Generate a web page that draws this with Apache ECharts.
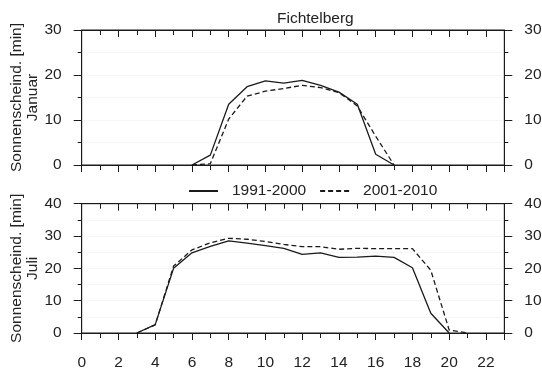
<!DOCTYPE html>
<html>
<head>
<meta charset="utf-8">
<script src="https://cdn.jsdelivr.net/npm/echarts@6/dist/echarts.min.js"></script>
<style>
  html, body { margin: 0; padding: 0; background: #fff; }
  #chart { width: 542px; height: 372px; }
</style>
</head>
<body>
<div id="chart"></div>
<script>
// Stunden (x)
var janHours = [6, 7, 8, 9, 10, 11, 12, 13, 14, 15, 16, 17];
var jan1991 = [0, 2.2, 13.5, 17.4, 18.7, 18.2, 18.8, 17.7, 16.2, 13.5, 2.4, 0];
var jan2001 = [0, 0.3, 10.2, 15.3, 16.4, 17.0, 17.7, 17.2, 16.1, 13.1, 6.4, 0];

var julHours1991 = [3, 4, 5, 6, 7, 8, 9, 10, 11, 12, 13, 14, 15, 16, 17, 18, 19, 20];
var jul1991 = [0, 2.6, 20.0, 24.8, 26.8, 28.5, 27.8, 27.0, 26.2, 24.3, 24.8, 23.4, 23.5, 23.8, 23.4, 20.2, 6.1, 0];
var julHours2001 = [3, 4, 5, 6, 7, 8, 9, 10, 11, 12, 13, 14, 15, 16, 17, 18, 19, 20, 21];
var jul2001 = [0, 2.5, 20.7, 25.7, 27.9, 29.3, 29.0, 28.3, 27.4, 26.7, 26.7, 25.9, 26.2, 26.1, 26.1, 26.1, 19.4, 0.9, 0];

var xTicks = [0, 2, 4, 6, 8, 10, 12, 14, 16, 18, 20, 22];
var seriesNames = ['1991-2000', '2001-2010'];

function pairs(xs, ys) {
  var out = [];
  for (var i = 0; i < xs.length; i++) out.push([xs[i], ys[i]]);
  return out;
}

var font = 'Liberation Sans, Arial, sans-serif';
var black = '#1a1a1a';
var fs = 15.5;

function xAxisDef(grid, pos, labels) {
  var inside = pos === 'top';
  return {
    type: 'value',
    gridIndex: grid,
    position: pos,
    min: 0,
    max: 23,
    interval: 2,
    axisLine: { show: true, onZero: false, lineStyle: { color: black, width: 1 } },
    axisTick: { show: true, inside: inside, length: 7, lineStyle: { color: black } },
    minorTick: { show: true, splitNumber: 2, length: 5, lineStyle: { color: black } },
    axisLabel: {
      show: labels,
      margin: 22,
      color: '#222',
      fontFamily: font,
      fontSize: fs,
      showMaxLabel: false,
      formatter: function (v) { return xTicks.indexOf(v) >= 0 ? String(v) : ''; }
    },
    splitLine: { show: false }
  };
}

function yAxisDef(grid, pos, max, name) {
  var ax = {
    type: 'value',
    gridIndex: grid,
    position: pos,
    min: 0,
    max: max,
    interval: 10,
    axisLine: { show: true, onZero: false, lineStyle: { color: black, width: 1 } },
    axisTick: { show: true, length: 8, lineStyle: { color: black } },
    minorTick: { show: true, splitNumber: 2, length: 4, lineStyle: { color: black } },
    axisLabel: {
      margin: 20,
      color: '#222',
      fontFamily: font,
      fontSize: fs
    },
    splitLine: {
      show: pos === 'left',
      lineStyle: { color: '#ececec', type: 'dotted', width: 1 }
    },
    minorSplitLine: {
      show: pos === 'left',
      lineStyle: { color: '#ececec', type: 'dotted', width: 1 }
    }
  };
  if (name) {
    ax.name = name;
    ax.nameLocation = 'middle';
    ax.nameRotate = 90;
    ax.nameGap = 41;
    ax.nameMoveOverlap = false;
    ax.nameTextStyle = { color: '#222', fontFamily: font, fontSize: fs, lineHeight: 16 };
  }
  return ax;
}

function lineSeries(name, x, y, data, dashed) {
  return {
    name: name,
    type: 'line',
    xAxisIndex: x,
    yAxisIndex: y,
    data: data,
    symbol: 'none',
    silent: true,
    animation: false,
    lineStyle: { color: black, width: 1.3, type: dashed ? [5, 3] : 'solid' },
    itemStyle: { color: black }
  };
}

var chart = echarts.init(document.getElementById('chart'));
chart.setOption({
  animation: false,
  title: {
    text: 'Fichtelberg',
    left: 272,
    top: 6,
    textStyle: { color: '#222', fontFamily: font, fontSize: fs, fontWeight: 'normal' }
  },
  legend: {
    data: seriesNames,
    left: 188,
    top: 183,
    padding: 0,
    itemWidth: 29,
    itemHeight: 14,
    itemGap: 13,
    itemStyle: { opacity: 0 },
    textStyle: { color: '#222', fontFamily: font, fontSize: fs, padding: [0, 0, 0, 9] }
  },
  grid: [
    { left: 81.7, right: 37.7, top: 30, height: 135, outerBoundsMode: 'none',
      show: true, borderColor: black, borderWidth: 1, backgroundColor: 'transparent' },
    { left: 81.7, right: 37.7, top: 203.7, height: 129.3, outerBoundsMode: 'none',
      show: true, borderColor: black, borderWidth: 1, backgroundColor: 'transparent' }
  ],
  xAxis: [
    xAxisDef(0, 'bottom', false),
    xAxisDef(0, 'top', false),
    xAxisDef(1, 'bottom', true),
    xAxisDef(1, 'top', false)
  ],
  yAxis: [
    yAxisDef(0, 'left', 30, 'Sonnenscheind. [min]\nJanuar'),
    yAxisDef(0, 'right', 30),
    yAxisDef(1, 'left', 40, 'Sonnenscheind. [min]\nJuli'),
    yAxisDef(1, 'right', 40)
  ],
  series: [
    lineSeries(seriesNames[0], 0, 0, pairs(janHours, jan1991), false),
    lineSeries(seriesNames[1], 0, 0, pairs(janHours, jan2001), true),
    lineSeries(seriesNames[0], 2, 2, pairs(julHours1991, jul1991), false),
    lineSeries(seriesNames[1], 2, 2, pairs(julHours2001, jul2001), true)
  ]
});
</script>
</body>
</html>
